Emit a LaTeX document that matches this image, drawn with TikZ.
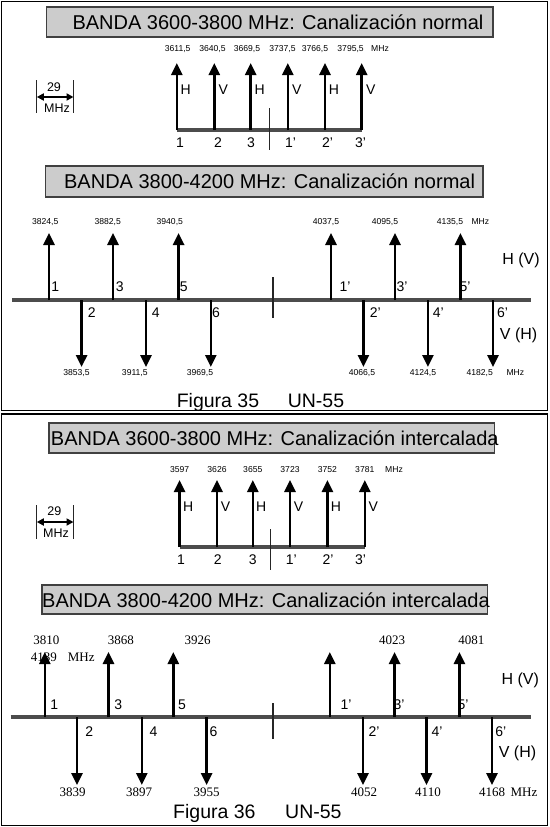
\documentclass[tikz,border=0pt]{standalone}
\usepackage{fontspec}
\setmainfont{Liberation Sans}
\newfontfamily\timesfont{Liberation Serif}
\usetikzlibrary{arrows.meta}

\tikzset{
  sig/.style={line width=2.6pt,-{Triangle[length=12pt,width=11pt]}},
  band/.style={line width=4.5pt,black!70},
  sep/.style={line width=1.2pt,black!85},
  frame/.style={line width=1.6pt},
  titlebox/.style={draw=black!75,line width=1.3pt,fill=black!20},
  ttl/.style={font=\fontsize{20}{24}\selectfont,inner sep=0pt},
  frq/.style={font=\fontsize{8.6}{10}\selectfont,inner sep=0pt},
  frqs/.style={font=\timesfont\fontsize{13}{15}\selectfont,inner sep=0pt},
  chn/.style={font=\fontsize{14}{16}\selectfont,inner sep=0pt},
  pol/.style={font=\fontsize{14}{16}\selectfont,inner sep=0pt},
  polbig/.style={font=\fontsize{16}{19}\selectfont,inner sep=0pt},
  fig/.style={font=\fontsize{19.5}{23}\selectfont,inner sep=0pt,anchor=base},
  scl/.style={font=\fontsize{12.5}{15}\selectfont,inner sep=0pt},
  span/.style={line width=1.8pt,{Triangle[length=7pt,width=7pt]}-{Triangle[length=7pt,width=7pt]}},
}

\begin{document}
\begin{tikzpicture}[x=1pt,y=-1pt]
  \useasboundingbox (0,0) rectangle (549,827);
  \draw[frame] (1.5,1.5) rectangle (547.5,410.5);
  \draw[frame] (1.5,414) rectangle (547.5,825.5);

  % BANDA 3600-3800, normal
  \draw[titlebox] (46.6,7) rectangle (493,37);
  \node[ttl] (t1) at (278,22) {BANDA 3600-3800 MHz: Canalización normal};
  \coordinate (b1-0) at (176.8,130);
  \coordinate (b1-7) at (361.7,130);
  \draw[band] (b1-0) -- (b1-7);
  \foreach \x/\f/\fx/\p/\n/\nx [count=\i] in {176.8/{3611,5}/177.7/H/1/180, 214.3/{3640,5}/212.5/V/2/218,
      250.7/{3669,5}/247/H/3/251, 287.8/{3737,5}/282.5/V/1'/290.5, 325/{3766,5}/315/H/2'/327.5, 361.7/{3795,5}/350.6/V/3'/360.5} {
    \coordinate (b1-\i) at (\x,130);
    \coordinate (u1-\i) at (\x,63);
    \draw[sig] (b1-\i) -- (u1-\i);
    \node[frq] (f1-\i) at (\fx,49) {\f};
    \node[pol] (p1-\i) at (\x+9,90) {\p};
    \node[chn] (n1-\i) at (\nx,143) {\n};
  }
  \node[frq] (m1) at (380,49) {MHz};
  \coordinate (s1a) at (269.6,108);
  \coordinate (s1b) at (269.6,150);
  \draw[sep] (s1a) -- (s1b);
  % 29 MHz
  \coordinate (k1a) at (36.8,80);
  \coordinate (k1b) at (36.8,113);
  \coordinate (k1c) at (73.5,80);
  \coordinate (k1d) at (73.5,113);
  \draw[sep] (k1a) -- (k1b);
  \draw[sep] (k1c) -- (k1d);
  \coordinate (k1l) at (36.8,97);
  \coordinate (k1r) at (73.5,97);
  \draw[span] (k1l) -- (k1r);
  \node[scl] (w1) at (54,87) {29};
  \node[scl] (w1u) at (57,108) {MHz};

  % BANDA 3800-4200, normal
  \draw[titlebox] (45.5,166) rectangle (483,197);
  \node[ttl] (t2) at (269.6,181) {BANDA 3800-4200 MHz: Canalización normal};
  \coordinate (b2-0) at (12.3,300);
  \coordinate (b2-7) at (530.5,300);
  \draw[band] (b2-0) -- (b2-7);
  \foreach \x/\f/\fx/\n/\nx [count=\i] in {49/{3824,5}/45.2/1/55.3, 113/{3882,5}/107.7/3/119.7,
      178.6/{3940,5}/169.8/5/183.8, 331/{4037,5}/326/1'/345, 395/{4095,5}/385/3'/402, 460.4/{4135,5}/450/5'/465} {
    \coordinate (b2-\i) at (\x,300);
    \coordinate (u2-\i) at (\x,233);
    \draw[sig] (b2-\i) -- (u2-\i);
    \node[frq] (f2-\i) at (\fx,222) {\f};
    \node[chn] (n2-\i) at (\nx,287) {\n};
  }
  \foreach \x/\f/\fx/\n/\nx [count=\i] in {81.6/{3853,5}/76.5/2/91.7, 146/{3911,5}/134.8/4/155.8,
      210.8/{3969,5}/200/6/216, 363.4/{4066,5}/362/2'/375.4, 427.9/{4124,5}/423/4'/438.4, 493/{4182,5}/479.7/6'/502.5} {
    \coordinate (c2-\i) at (\x,300);
    \coordinate (d2-\i) at (\x,367);
    \draw[sig] (c2-\i) -- (d2-\i);
    \node[frq] (g2-\i) at (\fx,373) {\f};
    \node[chn] (o2-\i) at (\nx,313) {\n};
  }
  \node[frq] (m2) at (480.4,222) {MHz};
  \node[frq] (m2d) at (515.4,373) {MHz};
  \coordinate (s2a) at (273,277);
  \coordinate (s2b) at (273,318);
  \draw[sep] (s2a) -- (s2b);
  \node[polbig] (hv2) at (521,260) {H (V)};
  \node[polbig] (vh2) at (518.6,335) {V (H)};
  \node[fig] (fg35) at (218,407) {Figura 35};
  \node[fig] (un35) at (316,407) {UN-55};

  % BANDA 3600-3800, intercalada
  \draw[titlebox] (49,423) rectangle (494.4,453);
  \node[ttl] (t3) at (274.8,438) {BANDA 3600-3800 MHz: Canalización intercalada};
  \coordinate (b3-0) at (179.6,547);
  \coordinate (b3-7) at (364.8,547);
  \draw[band] (b3-0) -- (b3-7);
  \foreach \x/\f/\p/\n/\nx [count=\i] in {179.6/3597/H/1/181, 217/3626/V/2/217.8,
      252.8/3655/H/3/252.8, 290/3723/V/1'/291.3, 327.4/3752/H/2'/328, 364.8/3781/V/3'/360.6} {
    \coordinate (b3-\i) at (\x,547);
    \coordinate (u3-\i) at (\x,480);
    \draw[sig] (b3-\i) -- (u3-\i);
    \node[frq] (f3-\i) at (\x,470) {\f};
    \node[pol] (p3-\i) at (\x+8.5,507) {\p};
    \node[chn] (n3-\i) at (\nx,560) {\n};
  }
  \node[frq] (m3) at (394,470) {MHz};
  \coordinate (s3a) at (270.7,529);
  \coordinate (s3b) at (270.7,570);
  \draw[sep] (s3a) -- (s3b);
  % 29 MHz
  \coordinate (k3a) at (36.8,505);
  \coordinate (k3b) at (36.8,539);
  \coordinate (k3c) at (73.5,505);
  \coordinate (k3d) at (73.5,539);
  \draw[sep] (k3a) -- (k3b);
  \draw[sep] (k3c) -- (k3d);
  \coordinate (k3l) at (36.8,522);
  \coordinate (k3r) at (73.5,522);
  \draw[span] (k3l) -- (k3r);
  \node[scl] (w3) at (54.3,511) {29};
  \node[scl] (w3u) at (56,533) {MHz};

  % BANDA 3800-4200, intercalada
  \draw[titlebox] (42,585) rectangle (487.4,614);
  \node[ttl] (t4) at (266,600) {BANDA 3800-4200 MHz: Canalización intercalada};
  \coordinate (b4-0) at (10.5,717);
  \coordinate (b4-7) at (530.5,717);
  \draw[band] (b4-0) -- (b4-7);
  \node[frqs] (f4-1) at (46.3,640) {3810};
  \node[frqs] (f4-0) at (43.8,657) {4139};
  \node[frqs] (m4) at (81.2,657) {MHz};
  \node[frqs] (f4-2) at (120.8,640) {3868};
  \node[frqs] (f4-3) at (197.5,640) {3926};
  \node[frqs] (f4-5) at (392,640) {4023};
  \node[frqs] (f4-6) at (471.3,640) {4081};
  \foreach \x/\n/\nx [count=\i] in {44.8/1/54.3, 108.5/3/118.3, 173.3/5/182, 329.8/1'/346, 394.6/3'/399, 459.4/5'/463} {
    \coordinate (b4-\i) at (\x,717);
    \coordinate (u4-\i) at (\x,652);
    \draw[sig] (b4-\i) -- (u4-\i);
    \node[chn] (n4-\i) at (\nx,705) {\n};
  }
  \foreach \x/\f/\fx/\n/\nx [count=\i] in {77/3839/72.5/2/89.3, 141.8/3897/139/4/153.4,
      206.6/3955/206.6/6/213.6, 363/4052/364/2'/374, 426.5/4110/428/4'/437, 492/4168/492/6'/500.7} {
    \coordinate (c4-\i) at (\x,717);
    \coordinate (d4-\i) at (\x,785);
    \draw[sig] (c4-\i) -- (d4-\i);
    \node[frqs] (g4-\i) at (\fx,792) {\f};
    \node[chn] (o4-\i) at (\nx,732) {\n};
  }
  \node[frqs] (m4d) at (524,792) {MHz};
  \coordinate (s4a) at (273,703);
  \coordinate (s4b) at (273,739);
  \draw[sep] (s4a) -- (s4b);
  \node[polbig] (hv4) at (520.3,680) {H (V)};
  \node[polbig] (vh4) at (517.5,753) {V (H)};
  \node[fig] (fg36) at (214.4,818) {Figura 36};
  \node[fig] (un36) at (313.4,818) {UN-55};
\end{tikzpicture}
\end{document}
